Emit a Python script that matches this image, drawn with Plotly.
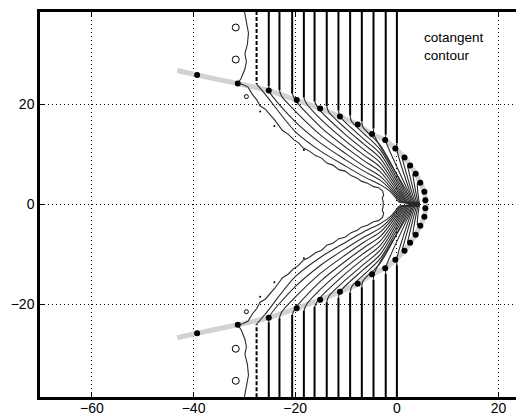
import plotly.graph_objects as go

# ---------------- axes ----------------
x_ticks = [-60, -40, -20, 0, 20]
y_ticks = [-20, 0, 20]
x_range = [-70.2, 25.0]
y_range = [-38.54, 38.4]

# ---------------- cotangent contour (grey band), upper half; lower half mirrors it --------
band_x = [-43.2, -39.3, -31.3, -25.2, -19.7, -15.1, -11.2, -7.7, -4.9, -2.3, -0.3, 1.5, 2.6, 3.7, 4.6, 5.4, 5.6, 5.65]
band_y = [26.7, 25.8, 24.1, 22.7, 20.8, 19.1, 17.5, 15.9, 14.0, 12.8, 11.1, 9.3, 7.7, 6.1, 4.3, 2.5, 0.8, 0.0]

# filled markers on the contour (upper half)
dot_x = [-39.3, -31.3, -25.2, -19.7, -15.1, -11.2, -7.7, -4.9, -2.3, -0.3, 1.5, 2.6, 3.7, 4.6, 5.4, 5.6]
dot_y = [25.8, 24.1, 22.7, 20.8, 19.1, 17.5, 15.9, 14.0, 12.8, 11.1, 9.3, 7.7, 6.1, 4.3, 2.5, 0.8]

# open circles and stray points (upper half)
ring_x = [-31.7, -31.7]
ring_y = [35.3, 28.9]
small_ring_x = [-29.6]
small_ring_y = [21.5]
speck_x = [-26.9, -24.1, -18.3]
speck_y = [18.5, 15.6, 10.8]

# ---------------- outer (wavy) contour, upper half ----------------
wavy_vert_x = [-30.0, -29.6, -29.2, -29.4, -29.9, -29.6, -29.9, -30.6, -31.3]
wavy_vert_y = [38.6, 36.0, 34.2, 32.0, 30.0, 28.5, 27.0, 25.2, 24.1]
wavy_fan_x = [-31.3, -30.3, -29.3, -28.4, -27.6, -26.9, -25.9, -24.8, -24.1, -23.3, -22.5, -21.4,
              -20.3, -19.4, -18.4, -17.2, -16.0, -14.8, -13.8, -12.6, -11.4, -10.2, -9.0, -7.8,
              -7.0, -5.8, -4.6, -3.6, -2.8, -2.6, -2.9, -2.7, -2.7]
wavy_fan_y = [24.1, 23.9, 23.4, 21.9, 20.9, 19.6, 19.0, 17.8, 16.9, 15.8, 14.7, 14.0,
              12.9, 12.3, 11.2, 10.6, 9.7, 9.2, 8.2, 7.8, 6.9, 6.6, 5.7, 5.2,
              4.6, 4.2, 3.5, 3.3, 2.6, 1.8, 1.2, 0.5, 0.0]

# ---------------- regular contours (upper half) ----------------
vert_x = [-27.6, -25.2, -23.1, -20.6, -18.3, -16.2, -13.8, -11.5, -9.2, -6.9, -4.6, -2.2, 0.0]
bend_y = [24.0, 23.6, 22.8, 22.1, 21.3, 20.5, 19.6, 18.7, 17.7, 16.6, 15.1, 13.9, 12.2]
start_x = [-26.0, -25.1, -22.7, -20.0, -17.8, -15.5, -13.4, -11.2, -8.9, -6.7, -4.5, -2.2, 0.0]
start_y = [22.1, 22.5, 21.6, 20.8, 20.1, 19.2, 18.4, 17.5, 16.5, 15.4, 13.9, 12.7, 10.9]
station_x = [-20.0, -15.0, -10.0, -6.5, -3.3]
fan_y = [
    [14.5, 10.6, 7.55, 5.5, 3.9],
    [16.5, 12.2, 8.8, 6.6, 4.8],
    [18.6, 13.8, 10.05, 7.6, 5.6],
    [None, 15.4, 11.3, 8.7, 6.5],
    [None, 17.0, 12.55, 9.8, 7.4],
    [None, None, 13.8, 10.9, 8.3],
    [None, None, 15.05, 12.0, 9.2],
    [None, None, None, 13.0, 10.1],
    [None, None, None, 14.1, 10.9],
    [None, None, None, None, 11.8],
    [None, None, None, None, None],
    [None, None, None, None, None],
    [None, None, None, None, None],
]
near_apex_y = 2.5
near_apex_x = [-1.3, -0.9, -0.55, -0.2, 0.15, 0.45, 0.75, 1.05, 1.35, 1.65, 1.95, 2.25, 2.55]
apex_x = [0.4, 0.7, 0.95, 1.2, 1.45, 1.7, 1.95, 2.2, 2.45, 2.7, 2.95, 3.2, 3.45]
bar_y = [0.38, 0.35, 0.32, 0.29, 0.26, 0.23, 0.2, 0.17, 0.14, 0.12, 0.1, 0.08, 0.06]
bar_end_x = 4.4

# short inner contours hugging the vertex
inner_start_x = [1.0, 2.1, 3.1, 4.0]
inner_start_y = [9.3, 7.6, 6.0, 4.2]
inner_mid_x = [2.9, 3.3, 3.7, 4.1]
inner_apex_x = [3.7, 3.95, 4.2, 4.45]
inner_bar_y = [0.05, 0.04, 0.03, 0.02]

label_text = "cotangent<br>contour"

FAN_COLOR = "#2a2a2a"
fig = go.Figure()


def neg(vals):
    return [-v for v in vals]


def add_line(xs, ys, color, width, shape="linear", dash="solid"):
    for sgn in (1, -1):
        fig.add_trace(go.Scatter(
            x=xs, y=[sgn * v for v in ys], mode="lines",
            line=dict(color=color, width=width, shape=shape, dash=dash, smoothing=0.8),
            hoverinfo="skip"))


# grey band
fig.add_trace(go.Scatter(
    x=band_x + band_x[::-1][1:], y=band_y + neg(band_y[::-1][1:]), mode="lines",
    line=dict(color="#d2d2d2", width=5, shape="spline", smoothing=0.6), hoverinfo="skip"))

# wavy outer contour
add_line(wavy_vert_x, wavy_vert_y, FAN_COLOR, 1.1)
add_line(wavy_fan_x, wavy_fan_y, FAN_COLOR, 1.1)

# regular contours
for i, vx in enumerate(vert_x):
    dash = "4px,2px" if i == 0 else "solid"
    add_line([vx, vx], [38.6, bend_y[i]], "black", 2.0, dash=dash)
    xs = [vx, start_x[i]]
    ys = [bend_y[i], start_y[i]]
    for sx, sy in zip(station_x, fan_y[i]):
        if sy is not None:
            xs.append(sx)
            ys.append(sy)
    xs += [near_apex_x[i], apex_x[i]]
    ys += [near_apex_y, bar_y[i]]
    add_line(xs, ys, FAN_COLOR, 1.1, shape="spline")
    add_line([apex_x[i], bar_end_x], [bar_y[i], bar_y[i]], FAN_COLOR, 1.1)

for i in range(len(inner_start_x)):
    add_line([inner_start_x[i], inner_mid_x[i], inner_apex_x[i]],
             [inner_start_y[i], near_apex_y, inner_bar_y[i]], FAN_COLOR, 1.1, shape="spline")

# markers
fig.add_trace(go.Scatter(x=dot_x + dot_x, y=dot_y + neg(dot_y), mode="markers",
                         marker=dict(color="black", size=6), hoverinfo="skip"))
fig.add_trace(go.Scatter(x=ring_x + ring_x, y=ring_y + neg(ring_y), mode="markers",
                         marker=dict(symbol="circle-open", color="black", size=7, line=dict(width=1)),
                         hoverinfo="skip"))
fig.add_trace(go.Scatter(x=small_ring_x + small_ring_x, y=small_ring_y + neg(small_ring_y), mode="markers",
                         marker=dict(symbol="circle-open", color="black", size=4, line=dict(width=1)),
                         hoverinfo="skip"))
fig.add_trace(go.Scatter(x=speck_x + speck_x, y=speck_y + neg(speck_y), mode="markers",
                         marker=dict(color="black", size=2), hoverinfo="skip"))

FONT = "Liberation Sans, Arial, Helvetica, sans-serif"
fig.add_annotation(x=4.9, y=31.6, xref="x", yref="y", text=label_text, showarrow=False,
                   xanchor="left", yanchor="middle", align="left",
                   font=dict(family=FONT, size=13.5, color="black"))

axis_common = dict(
    showgrid=True, gridcolor="black", gridwidth=1, griddash="1px,3px",
    zeroline=False, showline=True, linecolor="black", linewidth=2.5,
    ticks="inside", ticklen=5, tickwidth=1, tickcolor="black",
    tickfont=dict(family=FONT, size=14, color="black"), automargin=False,
)
fig.update_xaxes(range=x_range, tickvals=x_ticks, mirror="ticks", ticklabelstandoff=-4, **axis_common)
fig.update_yaxes(range=y_range, tickvals=y_ticks, mirror=False, **axis_common)
# the page adds an 8px body margin, so the figure is laid out 8px smaller/shifted
fig.update_layout(
    width=516, height=407, margin=dict(l=32, r=0, t=4, b=18),
    plot_bgcolor="white", paper_bgcolor="white", showlegend=False,
)
fig.write_html("out.html")
